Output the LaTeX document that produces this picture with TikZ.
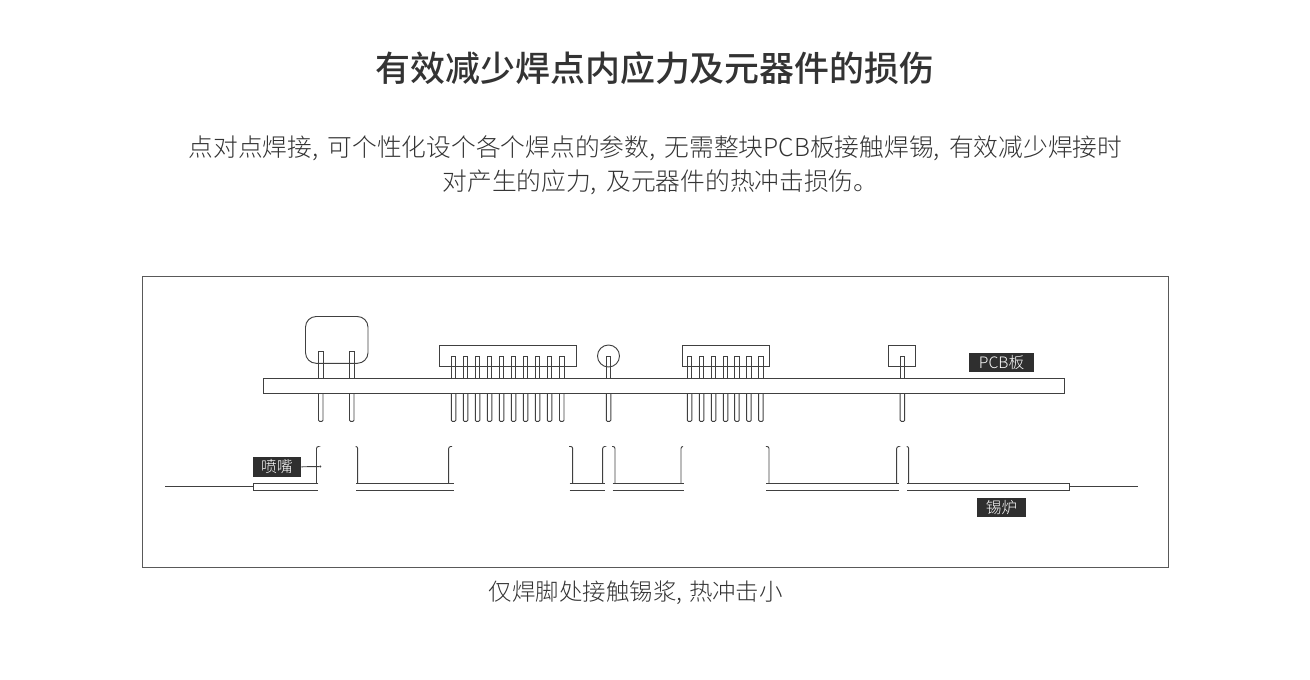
\documentclass[tikz,border=0pt]{standalone}
\usepackage{fontspec}
\newfontfamily\cjk{Noto Sans CJK SC Medium}
\newfontfamily\cjkl{Noto Sans CJK SC Light}
\definecolor{txt}{HTML}{333333}
\definecolor{tag}{HTML}{2F2F2F}
\newcommand{\cma}{,\hspace{6.9pt}}
\newcommand{\cmb}{,\hspace{5pt}}
\tikzset{
  x=0.75pt,y=-0.75pt,
  pl/.style={draw=black!75,line width=0.7pt},
  tagbox/.style={fill=tag,text=white,inner sep=0pt,font=\cjkl\fontsize{11.8pt}{12pt}\selectfont,anchor=center},
  para/.style={text=txt,inner sep=0pt,font=\cjkl\fontsize{18.55pt}{24pt}\selectfont,anchor=center},
}
\newcommand{\pinat}[2]{% x, top
  \draw[pl] (#1,378.5) -- (#1,#2) -- (#1+4.5,#2) -- (#1+4.5,378.5);
  \draw[pl,rounded corners=0.8pt] (#1,393.5) -- (#1,421.3) -- (#1+4.5,421.3) -- (#1+4.5,393.5);
}
\newcommand{\tank}[5]{% outer left, left wall, right wall, outer right
  \draw[pl] (#1,483) -- (#4,483);
  \draw[pl] (#1,490) -- (#4,490);
  \draw[pl,rounded corners=1.5pt] (#1-0.5,446.5) -- (#2,446.5) -- (#2,483);
  \draw[pl,rounded corners=1.5pt] (#3,483) -- (#3,446.5) -- (#5,446.5);
}
\begin{document}
\begin{tikzpicture}
\useasboundingbox (0,0) rectangle (1310,679);
\node[para,font=\cjk\fontsize{26.2pt}{30pt}\selectfont] (title) at (655,68) {有效减少焊点内应力及元器件的损伤};
\node[para] (l1) at (655.5,148) {点对点焊接\cma 可个性化设个各个焊点的参数\cma 无需整块PCB板接触焊锡\cma 有效减少焊接时};
\node[para] (l2) at (660.5,182) {对产生的应力\cma 及元器件的热冲击损伤。};
\node[para,font=\cjkl\fontsize{17.6pt}{24pt}\selectfont] (cap) at (635.8,592.5) {仅焊脚处接触锡浆\cmb 热冲击小};
\draw[draw=black!65,line width=0.65pt] (142.5,276.5) rectangle (1168.5,567.5);
% components
\draw[pl,rounded corners=8pt] (305.5,316.5) rectangle (368,363.3);
\draw[pl] (439,345.3) rectangle (576.3,366.7);
\draw[pl] (682,345.3) rectangle (769.3,366.7);
\draw[pl] (888.7,345.3) rectangle (915,366.7);
\draw[pl] (608.5,356) circle (11);
% board
\draw[pl] (263.5,378.5) rectangle (1064.5,393.5);
% pins
\pinat{318.5}{351.3}\pinat{349.5}{351.3}
\foreach \x in {451.3,463.3,475.3,487.3,499.3,511.3,523.3,535.3,547.3,559.5}{\pinat{\x}{356.3}}
\pinat{606.3}{356.3}
\foreach \x in {687.3,699.3,711.3,723.3,734.7,746.7,758.7}{\pinat{\x}{356.3}}
\pinat{900.2}{356.3}
% tin furnace
\draw[pl] (165,486.3) -- (253,486.3);
\draw[pl] (318.3,483) -- (253,483) -- (253,490) -- (318.3,490);
\draw[pl,rounded corners=1.5pt] (316.5,483) -- (316.5,446.5) -- (318.3,446.5);
\tank{356}{357.7}{448.7}{453.7}{452}
\tank{569.5}{572.7}{602.7}{605}{604.5}
\tank{612.7}{615}{681}{684}{683}
\tank{766.3}{769}{896.7}{899}{898.5}
\draw[pl] (1069.3,483) -- (907,483); \draw[pl] (1069.3,483) -- (1069.3,490) -- (907,490);
\draw[pl,rounded corners=1.5pt] (906.7,446.5) -- (908.7,446.5) -- (908.7,483);
\draw[pl] (1069.3,486.3) -- (1137.7,486.3);
% labels
\node[tagbox,minimum width=48.3*0.75pt,minimum height=19.7*0.75pt] (nz) at (276.9,466.8) {喷嘴};
\node[circle,fill=black!75,inner sep=0pt,minimum size=1.6pt] (dot) at (320.3,466.5) {};
\draw[pl] (nz.east) -- (dot);
\node[tagbox,minimum width=64.7*0.75pt,minimum height=19.7*0.75pt] (pcb) at (1001.6,362.5) {PCB板};
\node[tagbox,minimum width=48.4*0.75pt,minimum height=19.4*0.75pt] (xl) at (1001.5,507.4) {锡炉};
\end{tikzpicture}
\end{document}
